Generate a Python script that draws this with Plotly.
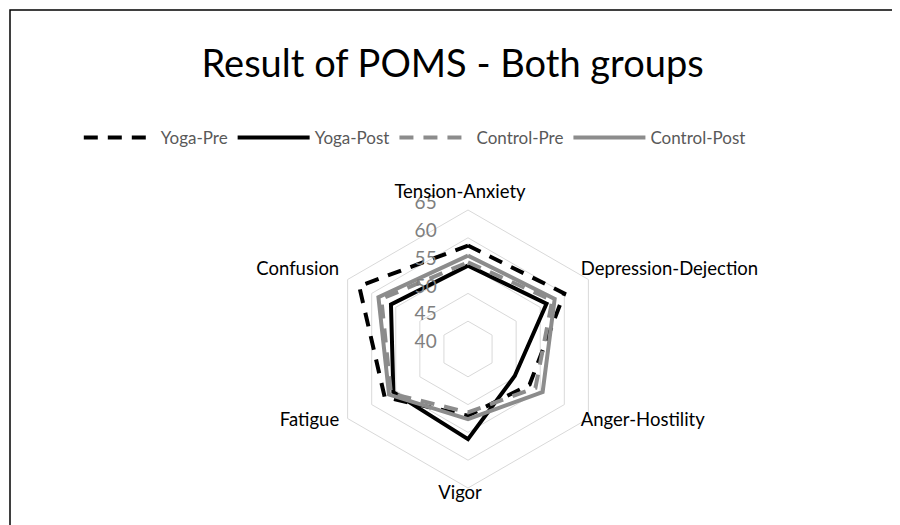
import plotly.graph_objects as go

categories = ["Tension-Anxiety", "Depression-Dejection", "Anger-Hostility", "Vigor", "Fatigue", "Confusion"]
yoga_pre = [58.6, 60.0, 52.8, 52.0, 57.3, 62.6]
yoga_post = [55.0, 56.3, 49.7, 56.2, 55.5, 56.0]
control_pre = [55.6, 57.5, 54.0, 51.4, 56.0, 58.0]
control_post = [56.8, 58.0, 55.5, 52.6, 56.4, 58.6]
radial_ticks = [40, 45, 50, 55, 60, 65]
radial_range = [40, 65]

W, H = 900, 525
cx, cy, R = 460, 341, 139


def closed(v):
    return list(v) + [v[0]]


def dom(x0, y0, r):
    return dict(x=[(x0 - r) / W, (x0 + r) / W], y=[(H - y0 - r) / H, (H - y0 + r) / H])


cats = closed(categories)
series = [
    ("Yoga-Pre", yoga_pre, "#000000", "14px,10px"),
    ("Yoga-Post", yoga_post, "#000000", "solid"),
    ("Control-Pre", control_pre, "#8c8c8c", "14px,10px"),
    ("Control-Post", control_post, "#8c8c8c", "solid"),
]

fig = go.Figure()
for name, vals, col, dash in series:
    fig.add_trace(go.Scatterpolar(
        r=closed(vals), theta=cats, name=name, mode="lines",
        line=dict(color=col, width=4, dash=dash), subplot="polar",
    ))

# helper subplots that only carry the axis labels (placed like the reference)
fig.add_trace(go.Scatterpolar(r=[None] * len(categories), theta=categories, mode="lines",
                              showlegend=False, hoverinfo="skip", subplot="polar2"))
fig.add_trace(go.Scatterpolar(r=[None] * len(categories), theta=categories, mode="lines",
                              showlegend=False, hoverinfo="skip", subplot="polar3"))

font_family = "Lato, 'Open Sans', sans-serif"
fig.update_layout(
    width=W, height=H,
    margin=dict(l=0, r=0, t=0, b=0),
    paper_bgcolor="white", plot_bgcolor="white",
    font=dict(family=font_family),
    title=dict(text="Result of POMS - Both groups", x=0.494, xanchor="center",
               y=1 - 56 / H, yanchor="middle", yref="container",
               font=dict(size=38, color="#000000", family=font_family)),
    legend=dict(orientation="h", x=0.452, xanchor="center", y=1 - 130 / H, yanchor="middle",
                font=dict(size=17, color="#595959", family=font_family),
                itemwidth=72, bgcolor="rgba(0,0,0,0)"),
    polar=dict(
        domain=dom(cx, cy, R),
        bgcolor="white",
        gridshape="linear",
        radialaxis=dict(range=radial_range, tickvals=radial_ticks, angle=90,
                        showticklabels=False, showline=False, ticks="",
                        gridcolor="#d9d9d9", gridwidth=1),
        angularaxis=dict(direction="clockwise", rotation=90, showgrid=False, showline=True,
                         linecolor="#d9d9d9", linewidth=1, ticks="", showticklabels=False,
                         categoryorder="array", categoryarray=categories),
    ),
    polar2=dict(
        domain=dom(cx - 28, cy - 7, R),
        bgcolor="rgba(0,0,0,0)",
        gridshape="linear",
        radialaxis=dict(range=radial_range, tickvals=radial_ticks, angle=90, tickangle=90,
                        side="counterclockwise", showgrid=False, showline=False, ticks="",
                        tickfont=dict(size=19, color="#7f7f7f", family=font_family)),
        angularaxis=dict(visible=False, direction="clockwise", rotation=90,
                         categoryorder="array", categoryarray=categories),
    ),
    polar3=dict(
        domain=dom(cx - 8, cy - 8, R),
        bgcolor="rgba(0,0,0,0)",
        gridshape="linear",
        radialaxis=dict(visible=False, range=radial_range),
        angularaxis=dict(direction="clockwise", rotation=90, showgrid=False, showline=False,
                         ticks="", categoryorder="array", categoryarray=categories,
                         tickfont=dict(size=18.5, color="#000000", family=font_family)),
    ),
    shapes=[dict(type="path", xref="paper", yref="paper",
                 path=f"M {2/W},0 L {2/W},{1-2/H} L {897/W},{1-2/H} L {897/W},0",
                 line=dict(color="#000000", width=1.5))],
)

fig.write_html("out.html")
